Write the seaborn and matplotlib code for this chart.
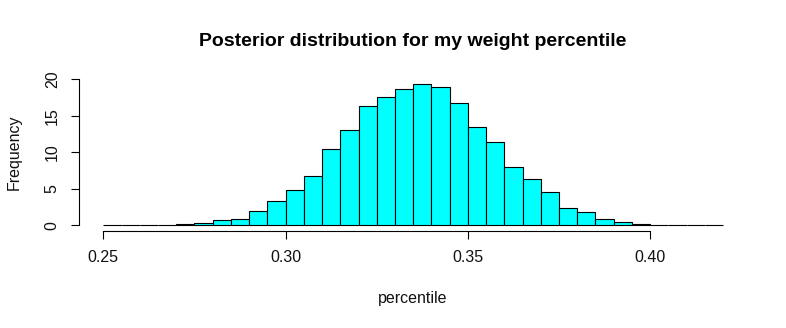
import numpy as np
import pandas as pd
import seaborn as sns
import matplotlib
matplotlib.use("Agg")
import matplotlib.pyplot as plt

# Bin edges (width 0.005 from 0.25 to 0.42) and bar heights
bin_edges = [round(0.25 + 0.005 * i, 3) for i in range(35)]
heights = [0, 0, 0, 0,
           0.14, 0.28, 0.69, 0.83, 1.93, 3.31,
           4.83, 6.76, 10.48, 13.10, 16.41, 17.52,
           18.62, 19.31, 18.90, 16.69, 13.52, 11.45,
           8.00, 6.34, 4.55, 2.39, 1.79, 0.83,
           0.41, 0.14, 0, 0, 0, 0]
x_ticks = [0.25, 0.30, 0.35, 0.40]
x_tick_labels = ["0.25", "0.30", "0.35", "0.40"]
y_ticks = [0, 5, 10, 15, 20]
title = "Posterior distribution for my weight percentile"
x_label = "percentile"
y_label = "Frequency"

centers = [(bin_edges[i] + bin_edges[i + 1]) / 2 for i in range(len(heights))]
df = pd.DataFrame({"center": centers, "height": heights})

sns.set_style("white")
plt.rcParams["font.family"] = ["Liberation Sans", "DejaVu Sans"]
plt.rcParams["text.color"] = "black"

fig = plt.figure(figsize=(7.86, 3.28), dpi=100)
ax = fig.add_axes([0.0999, 0.296, 0.8516, 0.464])

sns.histplot(data=df, x="center", weights="height", bins=bin_edges,
             color="#00FFFF", edgecolor="black", linewidth=0.8, alpha=1.0, ax=ax)

span_x = bin_edges[-1] - bin_edges[0]
ax.set_xlim(bin_edges[0] - 0.04 * span_x, bin_edges[-1] + 0.04 * span_x)
ymax = max(heights)
ax.set_ylim(-0.04 * ymax, ymax * 1.04)

for s in ["top", "right"]:
    ax.spines[s].set_visible(False)
for s in ["left", "bottom"]:
    ax.spines[s].set_color("black")
    ax.spines[s].set_linewidth(0.8)
ax.spines["left"].set_bounds(0, 20)
ax.spines["bottom"].set_bounds(0.25, 0.40)

ax.set_xticks(x_ticks)
ax.set_xticklabels(x_tick_labels)
ax.set_yticks(y_ticks)
ax.set_yticklabels([str(v) for v in y_ticks], rotation=90, va="center")
ax.tick_params(axis="both", which="major", bottom=True, left=True,
               direction="out", length=5.5, width=0.8, color="black",
               labelsize=11.5, labelcolor="#111111")
ax.tick_params(axis="x", pad=8.5)
ax.tick_params(axis="y", pad=8)
ax.set_xlabel("")
ax.set_ylabel("")
ax.grid(False)

fig.text(413 / 786, 1 - 41 / 328, title, ha="center", va="center",
         fontsize=14, fontweight="bold", color="black")
fig.text(413 / 786, 1 - 299 / 328, x_label, ha="center", va="center",
         fontsize=11.5, color="#111111")
fig.text(14 / 786, 1 - 152 / 328, y_label, ha="center", va="center", fontsize=11.5,
         rotation=90, color="#111111")

fig.savefig("out.png", dpi=100, facecolor="white")
